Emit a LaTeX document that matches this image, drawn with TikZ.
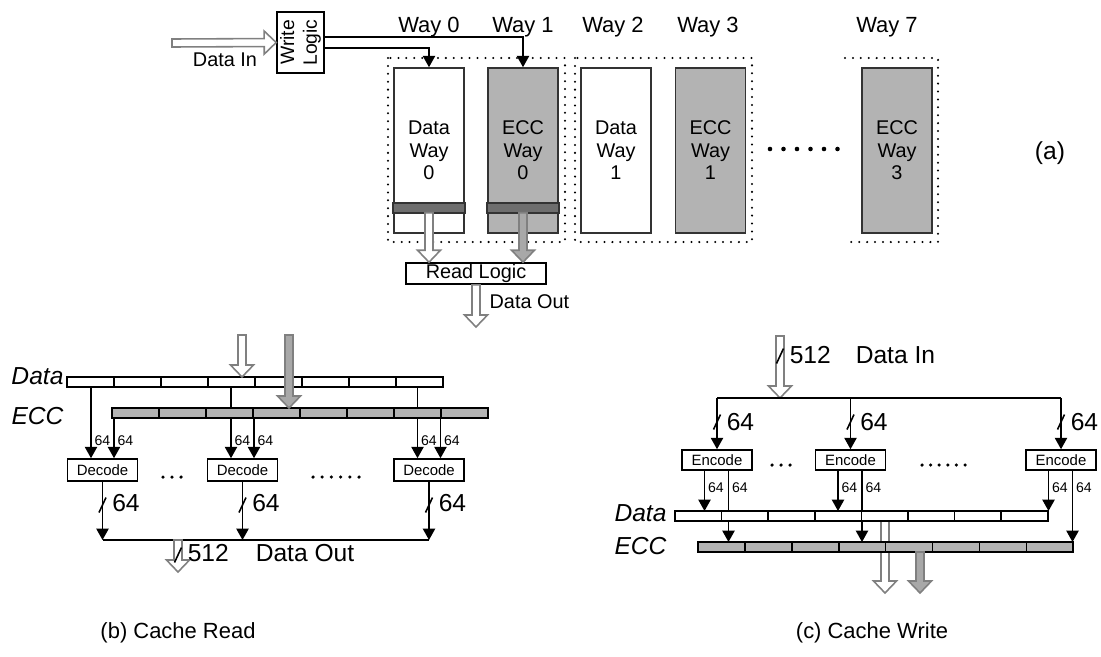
\documentclass[tikz,border=0pt]{standalone}
\usepackage{fontspec}
\setmainfont{Liberation Sans}
\usetikzlibrary{arrows.meta,calc}
\definecolor{eccgray}{HTML}{B3B3B3}
\definecolor{bandgray}{HTML}{6E6E6E}
\definecolor{fatgray}{HTML}{A8A8A8}
\definecolor{edgegray}{HTML}{808080}
\newcommand{\fsbig}{\fontsize{14}{16}\selectfont}
\newcommand{\fsway}{\fontsize{12.5}{14}\selectfont}
\newcommand{\fsbox}{\fontsize{11.3}{12.8}\selectfont}
\newcommand{\fswl}{\fontsize{11}{13}\selectfont}
\newcommand{\fscode}{\fontsize{8.5}{10}\selectfont}
\newcommand{\fssmall}{\fontsize{8}{9}\selectfont}
\newcommand{\fatarrow}[3][white]{%
  \coordinate (fa-h) at ($(#3)!0.24cm!(#2)$);
  \draw[draw=edgegray,fill=#1] ($(#2)!0.08cm!90:(#3)$) -- ($(fa-h)!0.08cm!90:(#3)$) -- ($(fa-h)!0.23cm!90:(#3)$) -- (#3)
    -- ($(fa-h)!0.23cm!-90:(#3)$) -- ($(fa-h)!0.08cm!-90:(#3)$) -- ($(#2)!0.08cm!-90:(#3)$) -- cycle;}
\tikzset{
  box/.style={draw, minimum width=1.4cm, inner sep=0pt},
  way/.style={draw=black!80, minimum width=1.4cm, minimum height=3.3cm, align=center, font=\fsbox, inner sep=0pt},
  arr/.style={-{Triangle[length=6.5pt,width=7pt]}},
  dotbox/.style={line width=1.3pt, dash pattern=on 0pt off 4.5pt, line cap=round},
}
\begin{document}
\begin{tikzpicture}[x=0.02cm,y=-0.02cm,line width=0.9pt]
\useasboundingbox (0,0) rectangle (1101,656);
% (a) ways
\node[box, minimum width=0.94cm, minimum height=1.22cm] (wl) at (300.5,42.5) {};
\node[rotate=90, align=center, font=\fswl] (wlt) at (wl.center) {Write\\Logic};
\coordinate (din) at (172,43); \fatarrow{din}{wl.west}
\node[font=\fsbox] (dinl) at (225,60) {Data In};
\foreach \x/\t in {429/0,523/1,613/2,708/3,887/7} \node[font=\fsway] (way\t) at (\x,27) {Way \t};
\node[way] (dw0) at (429,150.5) {Data\\Way\\0};
\node[way, fill=eccgray] (ew0) at (523,150.5) {ECC\\Way\\0};
\node[way] (dw1) at (616,150.5) {Data\\Way\\1};
\node[way, fill=eccgray] (ew1) at (710.5,150.5) {ECC\\Way\\1};
\node[way, fill=eccgray] (ew3) at (897,150.5) {ECC\\Way\\3};
\foreach \b in {dw0,ew0} \draw[draw=black!80, fill=bandgray] ($(\b.south west)+(0,-21)$) rectangle ($(\b.south east)+(0,-31)$);
\draw[dotbox] (388,58) rectangle (565,242); \draw[dotbox] (575,58) rectangle (752,242);
\draw[dotbox] (845,58) -- (938,58) -- (938,242) -- (845,242);
\foreach \i in {0,...,5} \fill (770+\i*13.5,149) circle (1.3pt);
\node[font=\fsbig] (capa) at (1050,153) {(a)};
\draw[arr] ([yshift=0.11cm]wl.east) -| (ew0.north);
\draw[arr] ([yshift=-0.11cm]wl.east) -| (dw0.north);
\node[box, minimum width=2.8cm, minimum height=0.42cm, font=\fsbox] (rl) at (476,273.5) {Read Logic};
\coordinate (r0a) at ($(dw0.south)+(0,-21)$); \coordinate (r0b) at (dw0.south |- rl.north);
\coordinate (r1a) at ($(ew0.south)+(0,-21)$); \coordinate (r1b) at (ew0.south |- rl.north);
\fatarrow{r0a}{r0b} \fatarrow[fatgray]{r1a}{r1b}
\coordinate (aout) at (476,327); \fatarrow{rl.south}{aout}
\node[anchor=west, font=\fsbox] (aoutl) at (483,302) {Data Out};
% (b) cache read
\coordinate (bdata) at (0,387); \coordinate (becc) at (0,418); \coordinate (bbus) at (0,540); \coordinate (bsl) at (0,505);
\foreach \n/\x in {1/102.5,2/242.5,3/429} {
  \node[box, minimum height=0.44cm, font=\fscode] (dec\n) at (\x,470) {Decode};
  \coordinate (dl\n) at ([xshift=-0.23cm]dec\n.north); \coordinate (dr\n) at ([xshift=0.23cm]dec\n.north);
  \draw[arr] (dl\n |- bdata) -- (dl\n); \draw[arr] (dr\n |- becc) -- (dr\n);
  \node[anchor=west, font=\fssmall, inner sep=1pt] (dll\n) at ($(dl\n)+(1,-18)$) {64};
  \node[anchor=west, font=\fssmall, inner sep=1pt] (drl\n) at ($(dr\n)+(1,-18)$) {64};
  \draw[arr] (dec\n.south) -- (dec\n.south |- bbus);
  \draw ($(dec\n.south |- bsl)+(-3.5,7.5)$) -- ++(7,-15);
  \node[anchor=west, font=\fsbig, inner sep=0pt] (dol\n) at ($(dec\n.south |- bsl)+(9,-2)$) {64};
}
\foreach \i in {0,...,7} \draw[fill=white] (67+\i*47,377) rectangle ++(47,10);
\foreach \i in {0,...,7} \draw[fill=eccgray] (112+\i*47,408) rectangle ++(47,10);
\node[anchor=east, font=\fsbig\itshape, inner sep=1pt] (bdl) at (66,376) {Data};
\node[anchor=east, font=\fsbig\itshape, inner sep=1pt] (bel) at (66,416) {ECC};
\coordinate (bi1) at (242,335); \coordinate (bi2) at (242,377); \fatarrow{bi1}{bi2}
\coordinate (bi3) at (289,335); \coordinate (bi4) at (289,408); \fatarrow[fatgray]{bi3}{bi4}
\foreach \i in {0,...,2} \fill (163+\i*9,477) circle (1pt);
\foreach \i in {0,...,5} \fill (313+\i*9.2,477) circle (1pt);
\draw (dec1.south |- bbus) -- (dec3.south |- bbus);
\coordinate (bo1) at (178,540); \coordinate (bo2) at (178,572); \fatarrow{bo1}{bo2}
\draw (174.5,562.5) -- ++(7,-15);
\node[anchor=west, font=\fsbig, inner sep=0pt] (bol) at (187,553) {512};
\node[anchor=west, font=\fsbig, inner sep=0pt] (bodl) at (255,553) {Data Out};
\node[font=\fsway] (capb) at (178,633) {(b) Cache Read};
% (c) cache write
\coordinate (cbus) at (0,398); \coordinate (csl) at (0,422); \coordinate (cdata) at (0,511); \coordinate (cecc) at (0,542);
\coordinate (ci1) at (780,336); \coordinate (ci2) at (780,398); \fatarrow{ci1}{ci2}
\draw (776.5,363.5) -- ++(7,-15);
\node[anchor=west, font=\fsbig, inner sep=0pt] (cil) at (789,355) {512};
\node[anchor=west, font=\fsbig, inner sep=0pt] (cidl) at (855,355) {Data In};
\foreach \n/\x in {1/717,2/850.5,3/1061} {
  \node[box, minimum height=0.4cm, font=\fscode] (enc\n) at (\x,460) {Encode};
  \draw[arr] (enc\n.north |- cbus) -- (enc\n.north);
  \draw ($(enc\n.north |- csl)+(-3.5,7.5)$) -- ++(7,-15);
  \node[anchor=west, font=\fsbig, inner sep=0pt] (cil\n) at ($(enc\n.north |- csl)+(9,0)$) {64};
  \coordinate (el\n) at ([xshift=-0.25cm]enc\n.south); \coordinate (er\n) at ([xshift=0.23cm]enc\n.south);
  \draw[arr] (el\n) -- (el\n |- cdata); \draw[arr] (er\n) -- (er\n |- cecc);
  \node[anchor=west, font=\fssmall, inner sep=1pt] (ell\n) at ($(el\n)+(1,17)$) {64};
  \node[anchor=west, font=\fssmall, inner sep=1pt] (erl\n) at ($(er\n)+(1,17)$) {64};
}
\draw (enc1.north |- cbus) -- (enc3.north |- cbus);
\foreach \i in {0,...,2} \fill (772+\i*9,465) circle (1pt);
\foreach \i in {0,...,5} \fill (922+\i*8.6,465) circle (1pt);
\coordinate (co1) at (885,521); \coordinate (co2) at (885,593); \fatarrow{co1}{co2}
\foreach \i in {0,...,7} \draw[fill=white] (675+\i*46.6,511) rectangle ++(46.6,10);
\foreach \i in {0,...,7} \draw[fill=eccgray] (698+\i*46.9,542) rectangle ++(46.9,10);
\coordinate (co3) at (920,552); \coordinate (co4) at (920,593); \fatarrow[fatgray]{co3}{co4}
\node[anchor=east, font=\fsbig\itshape, inner sep=1pt] (cdl) at (669,513) {Data};
\node[anchor=east, font=\fsbig\itshape, inner sep=1pt] (cel) at (669,546) {ECC};
\node[font=\fsway] (capc) at (872,633) {(c) Cache Write};
\end{tikzpicture}
\end{document}
